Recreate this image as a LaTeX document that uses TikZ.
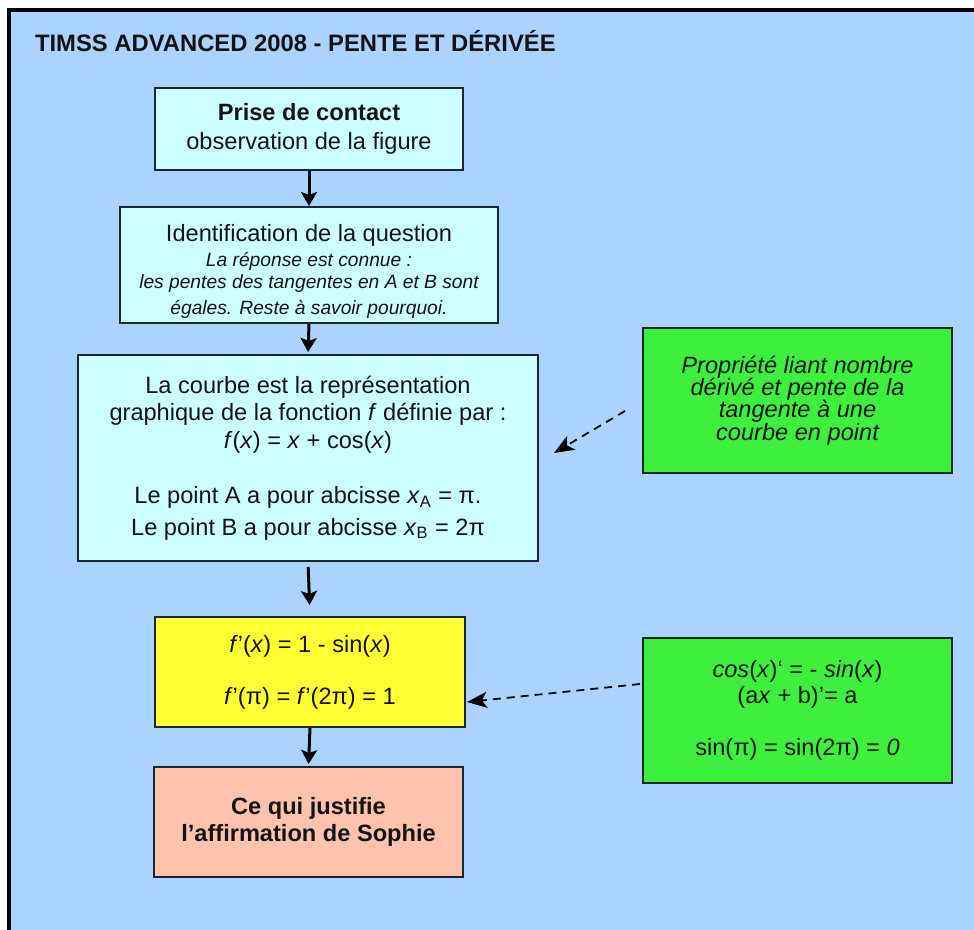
\documentclass[tikz,border=0pt]{standalone}
\usepackage{fontspec}
\setmainfont{Liberation Sans}
\usetikzlibrary{arrows.meta,calc}

\definecolor{sheet}{HTML}{AAD4FF}
\definecolor{palecyan}{HTML}{CCFFFF}
\definecolor{brightyellow}{HTML}{FFFF33}
\definecolor{brightgreen}{HTML}{3CF03C}
\definecolor{salmon}{HTML}{FFC2AA}
\definecolor{edge}{HTML}{1C2630}
\definecolor{ink}{HTML}{141414}

\tikzset{
  box/.style={draw=edge, line width=1pt, inner sep=0pt, align=center,
    text=ink, font=\fontsize{11.8}{14}\selectfont},
  flow/.style={line width=1.5pt, -{Stealth[length=7pt,width=8pt,inset=1.5pt]}},
  hint/.style={line width=0.9pt, dash pattern=on 4pt off 3pt,
    -{Stealth[length=10pt,width=8pt,inset=2.5pt]}},
}

\begin{document}
\begin{tikzpicture}[x=0.5pt,y=-0.5pt]
  \useasboundingbox (0,0) rectangle (974,930);
  \fill[white] (0,0) rectangle (974,930);
  \fill[sheet] (9,10) rectangle (974,930);
  \draw[line width=2.2pt, black] (9,930) -- (9,10) -- (974,10);

  \node[anchor=west, text=ink, font=\fontsize{11.9}{14}\selectfont\bfseries]
    (title) at (28,41) {TIMSS ADVANCED 2008 - PENTE ET DÉRIVÉE};

  % main chain
  \node[box, fill=palecyan, minimum width=154pt, minimum height=41pt,
    font=\fontsize{11.8}{14.5}\selectfont] (contact) at (309,129)
    {\textbf{Prise de contact}\\observation de la figure};

  \node[box, fill=palecyan, minimum width=189pt, minimum height=58pt,
    font=\fontsize{9.6}{11}\selectfont\itshape] (question) at (309,265)
    {{\fontsize{11.8}{13}\selectfont\upshape\rule{0pt}{15pt}Identification de la question}\\[1.5pt]
     La réponse est connue :\\[0pt]
     les pentes des tangentes en A et B sont\\[2pt]
     égales. Reste à savoir pourquoi.};

  \node[box, fill=palecyan, minimum width=230pt, minimum height=103pt,
    font=\fontsize{11.8}{13.8}\selectfont] (courbe) at (308,458)
    {La courbe est la représentation\\
     graphique de la fonction \textit{f} définie par :\\
     \textit{f}(\textit{x}) = \textit{x} + cos(\textit{x})\\[13.8pt]
     Le point A a pour abcisse \textit{x}\textsubscript{A} = π.\\[2pt]
     Le point B a pour abcisse \textit{x}\textsubscript{B} = 2π};

  \node[box, fill=brightyellow, minimum width=155pt, minimum height=55pt,
    font=\fontsize{11.8}{13}\selectfont] (derivee) at (310,672)
    {\textit{f}'(\textit{x}) = 1 - sin(\textit{x})\\[13pt]
     \textit{f}'(π) = \textit{f}'(2π) = 1};

  \node[box, fill=salmon, minimum width=154.5pt, minimum height=55pt,
    font=\fontsize{11.8}{13.5}\selectfont\bfseries] (sophie) at (308.5,822)
    {Ce qui justifie\\l’affirmation de Sophie};

  % side notes
  \node[box, fill=brightgreen, minimum width=154.5pt, minimum height=72.5pt,
    font=\fontsize{11.8}{11.2}\selectfont\itshape] (propriete) at (797.5,400.5)
    {Propriété liant nombre\\dérivé et pente de la\\tangente à une\\courbe en point};

  \node[box, fill=brightgreen, minimum width=154.5pt, minimum height=72.5pt,
    font=\fontsize{11.8}{13}\selectfont] (regles) at (797.5,710.5)
    {\textit{cos}(\textit{x})‘ = - \textit{sin}(\textit{x})\\
     (a\textit{x} + b)’= a\\[13pt]
     sin(π) = sin(2π) = \textit{0}};

  % connectors
  \draw[flow] (contact.south) -- (question.north);
  \draw[flow, shorten >=1pt] (question.south) -- (courbe.north);
  \draw[flow, shorten <=2.5pt, shorten >=5.5pt] (courbe.south) -- (derivee.north);
  \draw[flow, shorten >=1pt] (derivee.south) -- (sophie.north);

  \coordinate (p1) at ($(propriete.west)+(-17,10.5)$);
  \coordinate (q1) at ($(courbe.east)+(15,-5)$);
  \draw[hint] (p1) -- (q1);

  \coordinate (p2) at ($(regles.west)+(-2,-26.5)$);
  \coordinate (q2) at ($(derivee.east)+(1,30)$);
  \draw[hint] (p2) -- (q2);
\end{tikzpicture}
\end{document}
